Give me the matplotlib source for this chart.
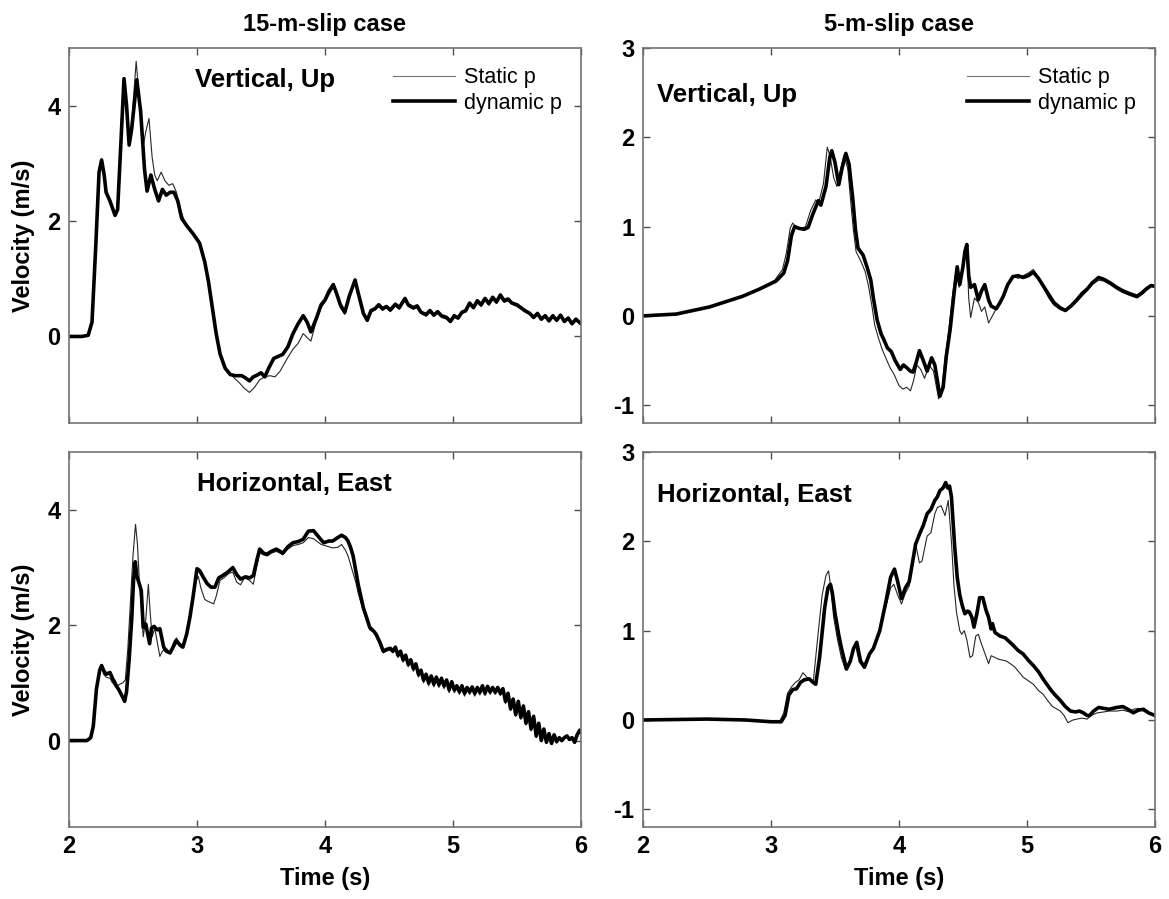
import matplotlib
matplotlib.use("Agg")
import matplotlib.pyplot as plt

plt.rcParams['font.family'] = ['Liberation Sans', 'DejaVu Sans']
plt.rcParams['axes.unicode_minus'] = False

# ---- 15-m-slip case, vertical (up) ----
t_v15_dyn = [2.00, 2.10, 2.15, 2.18, 2.21, 2.235, 2.255, 2.275, 2.29, 2.32, 2.36, 2.38, 2.40, 2.43, 2.45,
             2.47, 2.49, 2.53, 2.56, 2.59, 2.61, 2.64, 2.67, 2.70, 2.73, 2.76, 2.79, 2.82, 2.85, 2.88,
             2.92, 2.97, 3.02, 3.06, 3.09, 3.12, 3.15, 3.18, 3.22, 3.26, 3.30, 3.35, 3.38, 3.41, 3.44,
             3.47, 3.50, 3.53, 3.56, 3.60, 3.64, 3.67, 3.71, 3.75, 3.79, 3.83, 3.86, 3.89, 3.93, 3.97,
             4.00, 4.03, 4.065, 4.09, 4.12, 4.155, 4.19, 4.235, 4.26, 4.30, 4.33, 4.36, 4.39, 4.42, 4.45,
             4.48, 4.51, 4.55, 4.58, 4.625, 4.65, 4.69, 4.72, 4.75, 4.79, 4.82, 4.85, 4.88, 4.91, 4.95,
             4.98, 5.01, 5.04, 5.07, 5.10, 5.13, 5.16, 5.19, 5.22, 5.25, 5.28, 5.31, 5.34, 5.37, 5.40,
             5.43, 5.46, 5.50, 5.53, 5.56, 5.60, 5.63, 5.66, 5.69, 5.72, 5.75, 5.78, 5.81, 5.84, 5.87,
             5.90, 5.93, 5.96, 6.00]
v_v15_dyn = [0.00, 0.00, 0.02, 0.25, 1.60, 2.85, 3.06, 2.80, 2.50, 2.35, 2.10, 2.20, 3.10, 4.47, 4.00,
             3.32, 3.60, 4.45, 3.90, 2.90, 2.52, 2.80, 2.55, 2.35, 2.55, 2.45, 2.50, 2.50, 2.35, 2.05,
             1.92, 1.78, 1.62, 1.30, 0.95, 0.50, 0.05, -0.30, -0.55, -0.66, -0.68, -0.68, -0.72, -0.77, -0.70,
             -0.67, -0.63, -0.70, -0.55, -0.38, -0.34, -0.31, -0.18, 0.05, 0.22, 0.36, 0.25, 0.08, 0.30, 0.55,
             0.63, 0.78, 0.90, 0.75, 0.55, 0.42, 0.70, 0.98, 0.75, 0.40, 0.28, 0.45, 0.48, 0.55, 0.48,
             0.52, 0.46, 0.56, 0.50, 0.66, 0.55, 0.50, 0.53, 0.42, 0.38, 0.45, 0.37, 0.43, 0.36, 0.33,
             0.26, 0.36, 0.32, 0.42, 0.45, 0.58, 0.50, 0.62, 0.55, 0.66, 0.57, 0.68, 0.60, 0.72, 0.62,
             0.65, 0.58, 0.55, 0.50, 0.45, 0.40, 0.33, 0.40, 0.30, 0.36, 0.27, 0.36, 0.28, 0.37, 0.26,
             0.32, 0.22, 0.30, 0.22]
t_v15_sta = [2.00, 2.10, 2.15, 2.18, 2.21, 2.235, 2.255, 2.275, 2.29, 2.32, 2.36, 2.38, 2.40, 2.43, 2.45,
             2.47, 2.49, 2.525, 2.55, 2.58, 2.60, 2.625, 2.65, 2.67, 2.69, 2.72, 2.75, 2.78, 2.81, 2.84,
             2.87, 2.91, 2.96, 3.01, 3.05, 3.08, 3.11, 3.14, 3.17, 3.21, 3.25, 3.29, 3.33, 3.37, 3.41,
             3.45, 3.49, 3.53, 3.57, 3.61, 3.65, 3.70, 3.75, 3.79, 3.83, 3.86, 3.89, 3.93, 3.97, 4.00,
             4.03, 4.065, 4.09, 4.12, 4.155, 4.19, 4.235, 4.26, 4.30, 4.33, 4.36, 4.39, 4.42, 4.45, 4.48,
             4.51, 4.55, 4.58, 4.625, 4.65, 4.69, 4.72, 4.75, 4.79, 4.82, 4.85, 4.88, 4.91, 4.95, 4.98,
             5.01, 5.04, 5.07, 5.10, 5.13, 5.16, 5.19, 5.22, 5.25, 5.28, 5.31, 5.34, 5.37, 5.40, 5.43,
             5.46, 5.50, 5.53, 5.56, 5.60, 5.63, 5.66, 5.69, 5.72, 5.75, 5.78, 5.81, 5.84, 5.87, 5.90,
             5.93, 5.96, 6.00]
v_v15_sta = [0.00, 0.00, 0.02, 0.25, 1.60, 2.90, 3.08, 2.75, 2.50, 2.35, 2.12, 2.25, 3.20, 4.42, 3.95,
             3.30, 3.70, 4.77, 4.10, 3.30, 3.55, 3.78, 3.10, 2.80, 2.70, 2.85, 2.70, 2.62, 2.65, 2.50,
             2.20, 1.95, 1.80, 1.68, 1.40, 1.05, 0.60, 0.15, -0.20, -0.50, -0.62, -0.72, -0.80, -0.90, -0.97,
             -0.88, -0.75, -0.70, -0.68, -0.70, -0.60, -0.40, -0.22, -0.12, 0.05, -0.02, -0.08, 0.25, 0.50, 0.60,
             0.72, 0.85, 0.72, 0.50, 0.38, 0.68, 0.95, 0.72, 0.38, 0.30, 0.42, 0.46, 0.52, 0.45, 0.50,
             0.43, 0.53, 0.47, 0.63, 0.52, 0.47, 0.50, 0.40, 0.35, 0.42, 0.35, 0.40, 0.33, 0.30, 0.24,
             0.33, 0.30, 0.40, 0.42, 0.55, 0.48, 0.58, 0.52, 0.63, 0.54, 0.64, 0.57, 0.68, 0.59, 0.62,
             0.56, 0.52, 0.48, 0.43, 0.38, 0.31, 0.38, 0.28, 0.34, 0.26, 0.34, 0.27, 0.35, 0.25, 0.30,
             0.21, 0.28, 0.21]

# ---- 15-m-slip case, horizontal (east) ----
t_h15_dyn = [2.00, 2.14, 2.17, 2.19, 2.215, 2.24, 2.255, 2.27, 2.29, 2.32, 2.34, 2.36, 2.39, 2.42, 2.435,
             2.45, 2.47, 2.49, 2.505, 2.518, 2.53, 2.545, 2.565, 2.58, 2.60, 2.615, 2.63, 2.645, 2.665, 2.69,
             2.71, 2.74, 2.76, 2.79, 2.82, 2.84, 2.87, 2.89, 2.92, 2.945, 2.97, 3.00, 3.02, 3.05, 3.08,
             3.11, 3.14, 3.17, 3.20, 3.24, 3.28, 3.31, 3.34, 3.38, 3.41, 3.44, 3.47, 3.49, 3.52, 3.545,
             3.58, 3.62, 3.65, 3.67, 3.71, 3.75, 3.79, 3.83, 3.87, 3.91, 3.94, 3.97, 3.99, 4.03, 4.06,
             4.10, 4.13, 4.16, 4.18, 4.20, 4.22, 4.24, 4.26, 4.28, 4.30, 4.33, 4.35, 4.38, 4.40, 4.43,
             4.455, 4.48, 4.51, 4.53, 4.55, 4.57, 4.59, 4.61, 4.63, 4.65, 4.67, 4.69, 4.71, 4.73, 4.75,
             4.77, 4.79, 4.81, 4.83, 4.85, 4.87, 4.89, 4.91, 4.93, 4.95, 4.97, 4.99, 5.01, 5.03, 5.05,
             5.07, 5.09, 5.11, 5.13, 5.15, 5.17, 5.19, 5.21, 5.23, 5.25, 5.27, 5.29, 5.31, 5.33, 5.35,
             5.37, 5.39, 5.41, 5.43, 5.45, 5.47, 5.49, 5.51, 5.53, 5.55, 5.57, 5.59, 5.61, 5.63, 5.65,
             5.67, 5.69, 5.71, 5.73, 5.75, 5.77, 5.79, 5.81, 5.83, 5.85, 5.87, 5.89, 5.91, 5.93, 5.95,
             5.97, 5.99, 6.00]
v_h15_dyn = [0.00, 0.00, 0.05, 0.25, 0.90, 1.22, 1.30, 1.22, 1.15, 1.18, 1.08, 0.98, 0.88, 0.75, 0.68,
             0.85, 1.40, 2.10, 2.80, 3.10, 2.85, 2.75, 2.60, 1.96, 2.02, 1.85, 1.68, 1.95, 1.98, 1.92,
             1.94, 1.62, 1.55, 1.52, 1.65, 1.73, 1.65, 1.62, 1.85, 2.14, 2.50, 2.98, 2.95, 2.83, 2.72,
             2.66, 2.66, 2.82, 2.86, 2.92, 3.00, 2.88, 2.80, 2.84, 2.82, 2.86, 3.15, 3.32, 3.25, 3.23,
             3.28, 3.32, 3.28, 3.25, 3.36, 3.43, 3.45, 3.49, 3.63, 3.64, 3.56, 3.48, 3.43, 3.46, 3.46,
             3.52, 3.56, 3.52, 3.46, 3.35, 3.20, 2.95, 2.70, 2.50, 2.30, 2.10, 1.96, 1.90, 1.84, 1.70,
             1.55, 1.58, 1.60, 1.55, 1.62, 1.48, 1.55, 1.40, 1.48, 1.32, 1.40, 1.25, 1.33, 1.15, 1.22,
             1.05, 1.15, 1.00, 1.12, 0.98, 1.10, 0.97, 1.08, 0.95, 1.05, 0.88, 1.02, 0.88, 0.95, 0.85,
             0.95, 0.82, 0.92, 0.85, 0.93, 0.82, 0.92, 0.84, 0.95, 0.82, 0.94, 0.85, 0.92, 0.84, 0.92,
             0.82, 0.90, 0.68, 0.82, 0.55, 0.72, 0.45, 0.68, 0.40, 0.60, 0.30, 0.50, 0.20, 0.42, 0.08,
             0.30, 0.00, 0.20, -0.03, 0.12, -0.05, 0.10, -0.02, 0.05, 0.00, 0.05, 0.08, 0.02, 0.05, -0.03,
             0.10, 0.18, 0.15]
t_h15_sta = [2.00, 2.14, 2.17, 2.19, 2.215, 2.24, 2.255, 2.27, 2.29, 2.32, 2.34, 2.36, 2.38, 2.40, 2.42,
             2.44, 2.46, 2.48, 2.50, 2.52, 2.535, 2.55, 2.565, 2.58, 2.60, 2.62, 2.635, 2.65, 2.67, 2.69,
             2.71, 2.73, 2.76, 2.79, 2.82, 2.84, 2.87, 2.90, 2.93, 2.96, 2.99, 3.01, 3.03, 3.06, 3.08,
             3.10, 3.13, 3.15, 3.18, 3.21, 3.25, 3.28, 3.31, 3.34, 3.37, 3.41, 3.44, 3.47, 3.49, 3.52,
             3.55, 3.58, 3.62, 3.65, 3.67, 3.71, 3.75, 3.79, 3.83, 3.87, 3.91, 3.94, 3.97, 4.00, 4.03,
             4.06, 4.10, 4.13, 4.16, 4.18, 4.20, 4.22, 4.24, 4.26, 4.28, 4.30, 4.33, 4.35, 4.38, 4.40,
             4.43, 4.455, 4.48, 4.51, 4.53, 4.55, 4.57, 4.59, 4.61, 4.63, 4.65, 4.67, 4.69, 4.71, 4.73,
             4.75, 4.77, 4.79, 4.81, 4.83, 4.85, 4.87, 4.89, 4.91, 4.93, 4.95, 4.97, 4.99, 5.01, 5.03,
             5.05, 5.07, 5.09, 5.11, 5.13, 5.15, 5.17, 5.19, 5.21, 5.23, 5.25, 5.27, 5.29, 5.31, 5.33,
             5.35, 5.37, 5.39, 5.41, 5.43, 5.45, 5.47, 5.49, 5.51, 5.53, 5.55, 5.57, 5.59, 5.61, 5.63,
             5.65, 5.67, 5.69, 5.71, 5.73, 5.75, 5.77, 5.79, 5.81, 5.83, 5.85, 5.87, 5.89, 5.91, 5.93,
             5.95, 5.97, 5.99, 6.00]
v_h15_sta = [0.00, 0.00, 0.05, 0.28, 0.95, 1.25, 1.28, 1.15, 1.10, 1.08, 1.00, 1.05, 0.95, 0.98, 1.00,
             1.05, 1.60, 2.40, 3.20, 3.75, 3.40, 2.75, 2.30, 1.80, 2.10, 2.71, 2.20, 1.80, 1.95, 1.70,
             1.46, 1.55, 1.60, 1.52, 1.72, 1.78, 1.65, 1.70, 1.95, 2.30, 2.75, 2.85, 2.65, 2.45, 2.42,
             2.40, 2.37, 2.50, 2.78, 2.82, 2.90, 2.92, 2.75, 2.70, 2.82, 2.78, 2.71, 3.05, 3.25, 3.22,
             3.20, 3.25, 3.28, 3.25, 3.22, 3.32, 3.38, 3.40, 3.43, 3.52, 3.50, 3.45, 3.40, 3.38, 3.36,
             3.34, 3.35, 3.40, 3.30, 3.20, 3.05, 2.90, 2.75, 2.55, 2.40, 2.25, 2.05, 1.92, 1.88, 1.80,
             1.65, 1.52, 1.55, 1.57, 1.52, 1.58, 1.44, 1.50, 1.36, 1.44, 1.28, 1.36, 1.20, 1.28, 1.10,
             1.18, 1.00, 1.10, 0.95, 1.07, 0.93, 1.05, 0.92, 1.03, 0.90, 1.00, 0.83, 0.97, 0.83, 0.90,
             0.80, 0.90, 0.77, 0.87, 0.80, 0.88, 0.77, 0.87, 0.79, 0.90, 0.78, 0.89, 0.80, 0.88, 0.80,
             0.88, 0.78, 0.86, 0.64, 0.78, 0.52, 0.68, 0.42, 0.64, 0.37, 0.56, 0.27, 0.46, 0.17, 0.38,
             0.05, 0.27, -0.02, 0.17, -0.05, 0.10, -0.07, 0.08, -0.04, 0.03, -0.02, 0.03, 0.06, 0.00, 0.03,
             -0.05, 0.08, 0.16, 0.13]

# ---- 5-m-slip case, vertical (up) ----
t_v5_dyn = [2.00, 2.26, 2.52, 2.78, 2.91, 3.04, 3.10, 3.13, 3.16, 3.185, 3.22, 3.26, 3.29, 3.33, 3.37,
            3.39, 3.43, 3.46, 3.475, 3.50, 3.53, 3.555, 3.585, 3.61, 3.64, 3.66, 3.68, 3.72, 3.75, 3.78,
            3.80, 3.83, 3.86, 3.88, 3.91, 3.94, 3.97, 4.01, 4.035, 4.06, 4.09, 4.11, 4.135, 4.16, 4.19,
            4.22, 4.255, 4.28, 4.32, 4.345, 4.37, 4.40, 4.43, 4.455, 4.475, 4.50, 4.515, 4.53, 4.545, 4.56,
            4.59, 4.62, 4.645, 4.67, 4.70, 4.72, 4.76, 4.79, 4.815, 4.85, 4.89, 4.93, 4.97, 5.01, 5.05,
            5.09, 5.13, 5.17, 5.21, 5.26, 5.30, 5.35, 5.39, 5.43, 5.47, 5.51, 5.56, 5.60, 5.65, 5.70,
            5.75, 5.80, 5.86, 5.90, 5.93, 5.97, 6.00]
v_v5_dyn = [0.00, 0.02, 0.10, 0.22, 0.30, 0.39, 0.48, 0.62, 0.90, 1.00, 0.98, 0.97, 0.99, 1.15, 1.29,
            1.24, 1.45, 1.78, 1.85, 1.72, 1.47, 1.65, 1.82, 1.70, 1.30, 0.97, 0.76, 0.68, 0.55, 0.40,
            0.20, -0.05, -0.20, -0.26, -0.36, -0.40, -0.50, -0.60, -0.55, -0.58, -0.62, -0.63, -0.52, -0.39, -0.50,
            -0.62, -0.47, -0.55, -0.90, -0.80, -0.45, -0.15, 0.25, 0.55, 0.35, 0.55, 0.72, 0.80, 0.45, 0.32,
            0.35, 0.18, 0.28, 0.35, 0.18, 0.11, 0.08, 0.15, 0.22, 0.35, 0.44, 0.45, 0.43, 0.45, 0.49,
            0.42, 0.33, 0.24, 0.15, 0.09, 0.06, 0.12, 0.18, 0.25, 0.30, 0.37, 0.43, 0.41, 0.37, 0.32,
            0.28, 0.25, 0.22, 0.26, 0.30, 0.34, 0.33]
t_v5_sta = [2.00, 2.26, 2.52, 2.78, 2.91, 3.03, 3.09, 3.12, 3.15, 3.17, 3.20, 3.24, 3.27, 3.31, 3.35,
            3.37, 3.41, 3.44, 3.46, 3.49, 3.515, 3.54, 3.57, 3.60, 3.625, 3.645, 3.665, 3.70, 3.735, 3.76,
            3.79, 3.81, 3.84, 3.87, 3.90, 3.93, 3.96, 4.00, 4.03, 4.06, 4.09, 4.115, 4.14, 4.17, 4.20,
            4.235, 4.27, 4.31, 4.335, 4.36, 4.39, 4.42, 4.45, 4.47, 4.495, 4.51, 4.53, 4.545, 4.56, 4.59,
            4.62, 4.645, 4.67, 4.70, 4.73, 4.76, 4.79, 4.815, 4.85, 4.89, 4.93, 4.97, 5.01, 5.05, 5.09,
            5.13, 5.17, 5.21, 5.26, 5.30, 5.35, 5.39, 5.43, 5.47, 5.51, 5.56, 5.60, 5.65, 5.70, 5.75,
            5.80, 5.86, 5.90, 5.93, 5.97, 6.00]
v_v5_sta = [0.00, 0.02, 0.10, 0.22, 0.30, 0.40, 0.52, 0.70, 0.98, 1.04, 0.99, 0.98, 1.00, 1.18, 1.30,
            1.25, 1.48, 1.89, 1.80, 1.55, 1.45, 1.62, 1.80, 1.65, 1.25, 0.95, 0.72, 0.62, 0.50, 0.35,
            0.10, -0.10, -0.25, -0.38, -0.48, -0.58, -0.65, -0.78, -0.82, -0.80, -0.84, -0.72, -0.55, -0.60, -0.70,
            -0.55, -0.62, -0.93, -0.85, -0.48, -0.15, 0.25, 0.55, 0.32, 0.55, 0.70, 0.78, 0.20, -0.02, 0.20,
            0.15, 0.05, 0.10, -0.08, 0.00, 0.08, 0.15, 0.22, 0.36, 0.45, 0.42, 0.45, 0.48, 0.52, 0.43,
            0.31, 0.20, 0.12, 0.07, 0.05, 0.10, 0.16, 0.22, 0.28, 0.35, 0.40, 0.39, 0.35, 0.30, 0.26,
            0.23, 0.20, 0.24, 0.28, 0.33, 0.34]

# ---- 5-m-slip case, horizontal (east) ----
t_h5_dyn = [2.00, 2.50, 2.80, 3.00, 3.08, 3.11, 3.14, 3.17, 3.20, 3.23, 3.26, 3.30, 3.33, 3.35, 3.38,
            3.42, 3.445, 3.465, 3.48, 3.50, 3.53, 3.55, 3.59, 3.62, 3.645, 3.67, 3.70, 3.73, 3.77, 3.80,
            3.85, 3.90, 3.935, 3.965, 3.99, 4.02, 4.05, 4.08, 4.11, 4.13, 4.16, 4.19, 4.22, 4.25, 4.28,
            4.30, 4.32, 4.345, 4.365, 4.38, 4.395, 4.41, 4.435, 4.455, 4.475, 4.495, 4.515, 4.535, 4.55, 4.57,
            4.586, 4.61, 4.63, 4.655, 4.68, 4.70, 4.72, 4.73, 4.75, 4.79, 4.83, 4.86, 4.89, 4.93, 4.97,
            5.01, 5.05, 5.09, 5.13, 5.155, 5.19, 5.22, 5.26, 5.30, 5.34, 5.38, 5.41, 5.44, 5.47, 5.49,
            5.52, 5.56, 5.60, 5.64, 5.70, 5.75, 5.80, 5.83, 5.87, 5.91, 5.95, 6.00]
v_h5_dyn = [0.00, 0.01, 0.00, -0.02, -0.02, 0.05, 0.28, 0.34, 0.35, 0.42, 0.45, 0.46, 0.42, 0.40, 0.70,
            1.26, 1.48, 1.52, 1.42, 1.20, 0.95, 0.81, 0.57, 0.66, 0.80, 0.87, 0.66, 0.59, 0.74, 0.80,
            1.00, 1.34, 1.60, 1.69, 1.55, 1.36, 1.48, 1.55, 1.80, 1.97, 2.08, 2.18, 2.31, 2.36, 2.46,
            2.50, 2.57, 2.60, 2.66, 2.60, 2.62, 2.50, 1.95, 1.60, 1.40, 1.28, 1.19, 1.22, 1.21, 1.15,
            1.04, 1.20, 1.37, 1.37, 1.23, 1.15, 1.02, 1.08, 0.98, 0.94, 0.92, 0.88, 0.84, 0.78, 0.74,
            0.67, 0.61, 0.54, 0.45, 0.40, 0.33, 0.28, 0.22, 0.15, 0.10, 0.09, 0.10, 0.08, 0.05, 0.05,
            0.10, 0.14, 0.13, 0.12, 0.14, 0.15, 0.11, 0.08, 0.11, 0.12, 0.08, 0.05]
t_h5_sta = [2.00, 2.50, 2.80, 3.00, 3.07, 3.10, 3.13, 3.16, 3.19, 3.22, 3.25, 3.28, 3.31, 3.33, 3.36,
            3.40, 3.43, 3.45, 3.47, 3.49, 3.52, 3.55, 3.58, 3.61, 3.64, 3.66, 3.69, 3.72, 3.76, 3.80,
            3.85, 3.90, 3.935, 3.96, 3.99, 4.02, 4.05, 4.08, 4.11, 4.13, 4.16, 4.18, 4.22, 4.25, 4.28,
            4.30, 4.33, 4.36, 4.385, 4.41, 4.43, 4.45, 4.475, 4.49, 4.51, 4.53, 4.555, 4.575, 4.60, 4.62,
            4.645, 4.67, 4.70, 4.72, 4.75, 4.78, 4.81, 4.84, 4.87, 4.90, 4.93, 4.97, 5.01, 5.05, 5.09,
            5.125, 5.16, 5.20, 5.26, 5.29, 5.32, 5.36, 5.39, 5.43, 5.47, 5.50, 5.55, 5.60, 5.64, 5.70,
            5.75, 5.80, 5.83, 5.87, 5.91, 5.95, 6.00]
v_h5_sta = [0.00, 0.01, 0.00, -0.01, -0.01, 0.08, 0.30, 0.37, 0.42, 0.45, 0.53, 0.48, 0.46, 0.42, 0.85,
            1.40, 1.62, 1.67, 1.45, 1.15, 0.90, 0.70, 0.57, 0.62, 0.78, 0.84, 0.65, 0.60, 0.72, 0.80,
            1.00, 1.28, 1.48, 1.52, 1.40, 1.30, 1.42, 1.50, 1.80, 1.97, 1.76, 1.78, 2.06, 2.10, 2.31,
            2.38, 2.40, 2.29, 2.46, 2.00, 1.50, 1.20, 1.00, 0.96, 1.00, 0.90, 0.70, 0.72, 0.94, 0.96,
            0.85, 0.75, 0.63, 0.72, 0.70, 0.68, 0.67, 0.66, 0.63, 0.60, 0.55, 0.48, 0.44, 0.40, 0.33,
            0.29, 0.22, 0.15, 0.10, 0.05, -0.03, 0.00, 0.01, 0.02, 0.01, 0.05, 0.08, 0.09, 0.10, 0.10,
            0.11, 0.09, 0.12, 0.13, 0.10, 0.07, 0.05]

xticks = [2, 3, 4, 5, 6]
yticks_15 = [0, 2, 4]
yticks_5 = [-1, 0, 1, 2, 3]

fig = plt.figure(figsize=(11.69, 8.99), dpi=100)

ax_tl = fig.add_axes([0.059, 0.5295, 0.438, 0.417])
ax_bl = fig.add_axes([0.059, 0.080, 0.438, 0.417])
ax_tr = fig.add_axes([0.550, 0.5295, 0.438, 0.417])
ax_br = fig.add_axes([0.550, 0.080, 0.438, 0.417])

panels = [
    (ax_tl, t_v15_sta, v_v15_sta, t_v15_dyn, v_v15_dyn, (-1.5, 5), yticks_15),
    (ax_bl, t_h15_sta, v_h15_sta, t_h15_dyn, v_h15_dyn, (-1.5, 5), yticks_15),
    (ax_tr, t_v5_sta, v_v5_sta, t_v5_dyn, v_v5_dyn, (-1.2, 3), yticks_5),
    (ax_br, t_h5_sta, v_h5_sta, t_h5_dyn, v_h5_dyn, (-1.2, 3), yticks_5),
]

for ax, ts, vs, td, vd, ylim, yt in panels:
    ax.plot(ts, vs, color='0.15', lw=0.8, label='Static p', solid_joinstyle='round')
    ax.plot(td, vd, color='black', lw=2.6, label='dynamic p', solid_joinstyle='round')
    ax.set_xlim(2, 6)
    ax.set_ylim(*ylim)
    ax.set_xticks(xticks)
    ax.set_yticks(yt)
    ax.tick_params(direction='in', top=True, right=True, length=5, width=1,
                   labelsize=17, pad=6, color='0.3')
    for lab in ax.get_xticklabels() + ax.get_yticklabels():
        lab.set_fontweight('bold')
    for sp in ax.spines.values():
        sp.set_color('0.45')
        sp.set_linewidth(1.2)

for ax in (ax_tl, ax_tr):
    ax.tick_params(labelbottom=False)
    leg = ax.legend(loc='upper right', frameon=False, fontsize=15.5,
                    handlelength=2.9, handletextpad=0.4, labelspacing=0.2,
                    borderaxespad=0.5)
    leg.get_lines()[0].set_color('0.45')

for ax in (ax_bl, ax_br):
    ax.set_xlabel('Time (s)', fontsize=17, fontweight='bold', labelpad=6)
for ax in (ax_tl, ax_bl):
    ax.set_ylabel('Velocity (m/s)', fontsize=17, fontweight='bold', labelpad=9)

ax_tl.set_title('15-m-slip case', fontsize=17, fontweight='bold', pad=12)
ax_tr.set_title('5-m-slip case', fontsize=17, fontweight='bold', pad=12)

ax_tl.text(0.246, 0.915, 'Vertical, Up', transform=ax_tl.transAxes,
           fontsize=18.5, fontweight='bold', va='center', ha='left')
ax_bl.text(0.25, 0.915, 'Horizontal, East', transform=ax_bl.transAxes,
           fontsize=18.5, fontweight='bold', va='center', ha='left')
ax_tr.text(0.027, 0.875, 'Vertical, Up', transform=ax_tr.transAxes,
           fontsize=18.5, fontweight='bold', va='center', ha='left')
ax_br.text(0.027, 0.885, 'Horizontal, East', transform=ax_br.transAxes,
           fontsize=18.5, fontweight='bold', va='center', ha='left')

fig.savefig('out.png', dpi=100)
